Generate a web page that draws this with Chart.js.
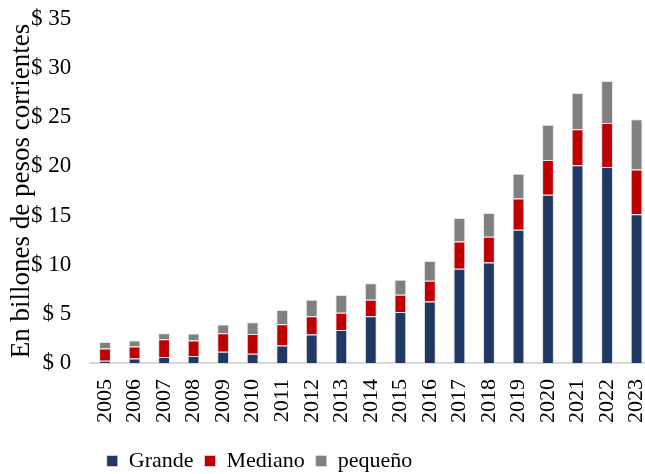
<!DOCTYPE html>
<html>
<head>
<meta charset="utf-8">
<script src="https://cdn.jsdelivr.net/npm/chart.js@4"></script>
<style>
  html, body { margin: 0; padding: 0; background: #fff; overflow: hidden; }
  #wrap { width: 679px; height: 474px; }
</style>
</head>
<body>
<div id="wrap"><canvas id="chart"></canvas></div>
<script>
// data (billones de pesos corrientes)
const years = ["2005", "2006", "2007", "2008", "2009", "2010", "2011", "2012", "2013", "2014",
  "2015", "2016", "2017", "2018", "2019", "2020", "2021", "2022", "2023"];
const grande = [0.22, 0.46, 0.60, 0.70, 1.15, 0.94, 1.79, 2.89, 3.36, 4.76,
  5.20, 6.26, 9.60, 10.22, 13.56, 17.11, 20.11, 19.94, 15.13];
const mediano = [1.26, 1.23, 1.81, 1.60, 1.87, 2.01, 2.15, 1.87, 1.74, 1.67,
  1.74, 2.11, 2.77, 2.63, 3.17, 3.55, 3.66, 4.47, 4.57];
const pequeno = [0.65, 0.61, 0.61, 0.69, 0.89, 1.20, 1.46, 1.67, 1.81, 1.68,
  1.54, 2.02, 2.39, 2.42, 2.53, 3.58, 3.71, 4.27, 5.09];

const FONT = "'Liberation Serif', 'Times New Roman', serif";

// moves the legend left, like the Excel original
const legendShift = {
  id: "legendShift",
  afterLayout(chart) {
    const lg = chart.legend;
    if (!lg) return;
    lg.left -= 80;
    lg.right -= 80;
  },
};

const seg = (label, data, color) => ({
  label,
  data,
  backgroundColor: color,
  borderColor: "rgba(220,220,220,0.8)",
  borderWidth: 1,
  categoryPercentage: 1,
  barPercentage: 0.4,
});

new Chart(document.getElementById("chart"), {
  type: "bar",
  data: {
    labels: years,
    datasets: [
      seg("Grande", grande, "#1f3864"),
      seg("Mediano", mediano, "#c00000"),
      seg("pequeño", pequeno, "#808080"),
    ],
  },
  options: {
    responsive: true,
    maintainAspectRatio: false,
    animation: false,
    layout: { padding: { top: 0, right: 0, left: 0, bottom: -8 } },
    plugins: {
      legend: {
        position: "bottom",
        labels: {
          color: "#000",
          font: { family: FONT, size: 22 },
          boxWidth: 11,
          boxHeight: 11,
          padding: 11,
        },
      },
      tooltip: { enabled: false },
    },
    scales: {
      x: {
        stacked: true,
        grid: { display: false, drawTicks: false },
        border: { display: true, color: "#d9d9d9", width: 2 },
        ticks: {
          color: "#000",
          font: { family: FONT, size: 22 },
          minRotation: 90,
          maxRotation: 90,
          padding: 16,
          autoSkip: false,
        },
      },
      y: {
        stacked: true,
        min: 0,
        max: 35,
        afterFit: (s) => { s.paddingTop = 19; },
        grid: { display: false, drawTicks: false },
        border: { display: false },
        ticks: {
          stepSize: 5,
          color: "#000",
          font: { family: FONT, size: 23 },
          padding: 19,
          callback: (v) => "$ " + v,
        },
        title: {
          display: true,
          text: "En billones de pesos corrientes",
          color: "#000",
          font: { family: FONT, size: 27 },
          padding: { top: 6, bottom: -26.4 },
        },
      },
    },
  },
  plugins: [legendShift],
});
</script>
</body>
</html>
